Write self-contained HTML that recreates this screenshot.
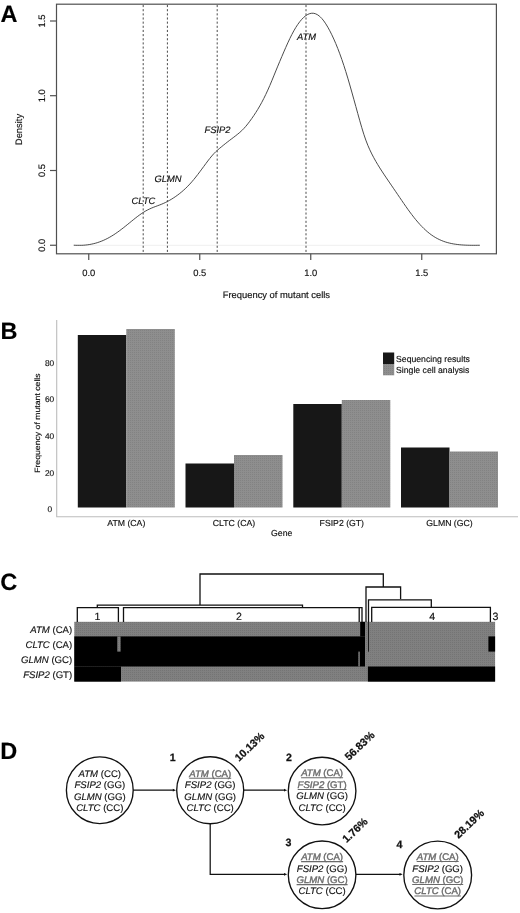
<!DOCTYPE html>
<html><head><meta charset="utf-8"><title>Figure</title>
<style>
html,body{margin:0;padding:0;background:#fff;}
body{width:520px;height:913px;overflow:hidden;}
svg{display:block;}
text{font-family:"Liberation Sans",sans-serif;fill:#111;text-rendering:geometricPrecision;stroke:#111;stroke-width:0.15px;}
.i{font-style:italic;}
.b{font-weight:bold;}
.bs{stroke:#111;stroke-width:0.25px;}
.pl{font-size:23.5px;font-weight:bold;fill:#000;}
.ax{font-size:9.4px;}
.bx{font-size:8.7px;}
.by{font-size:8.3px;}
.g{fill:#6c6c6c;stroke:#6c6c6c;stroke-width:0.4px;}
</style></head><body>
<svg width="520" height="913" viewBox="0 0 520 913">
<defs>
<pattern id="hb" width="2" height="2" patternUnits="userSpaceOnUse"><rect width="2" height="2" fill="#8e8e8e"/><rect width="1" height="1" fill="#828282"/></pattern>
<pattern id="hc" width="2" height="2" patternUnits="userSpaceOnUse"><rect width="2" height="2" fill="#808080"/><rect width="1" height="1" fill="#747474"/></pattern>
</defs>
<rect width="520" height="913" fill="#fff"/>

<g id="panelA">
<text class="pl" x="0.5" y="21.5">A</text>
<rect x="56.5" y="4.2" width="439.9" height="249.6" fill="none" stroke="#505050" stroke-width="1.2"/>
<line x1="73" y1="245.3" x2="480" y2="245.3" stroke="#e4e4e4" stroke-width="0.6"/>
<line x1="50" y1="245.25" x2="56.5" y2="245.25" stroke="#505050" stroke-width="1.2"/>
<text class="ax" transform="translate(45.3,245.25) rotate(-90)" text-anchor="middle">0.0</text>
<line x1="50" y1="170.50" x2="56.5" y2="170.50" stroke="#505050" stroke-width="1.2"/>
<text class="ax" transform="translate(45.3,170.50) rotate(-90)" text-anchor="middle">0.5</text>
<line x1="50" y1="95.70" x2="56.5" y2="95.70" stroke="#505050" stroke-width="1.2"/>
<text class="ax" transform="translate(45.3,95.70) rotate(-90)" text-anchor="middle">1.0</text>
<line x1="50" y1="21.00" x2="56.5" y2="21.00" stroke="#505050" stroke-width="1.2"/>
<text class="ax" transform="translate(45.3,21.00) rotate(-90)" text-anchor="middle">1.5</text>
<line x1="88.75" y1="253.8" x2="88.75" y2="260" stroke="#505050" stroke-width="1.2"/>
<text class="ax" x="88.75" y="276" text-anchor="middle">0.0</text>
<line x1="199.75" y1="253.8" x2="199.75" y2="260" stroke="#505050" stroke-width="1.2"/>
<text class="ax" x="199.75" y="276" text-anchor="middle">0.5</text>
<line x1="310.75" y1="253.8" x2="310.75" y2="260" stroke="#505050" stroke-width="1.2"/>
<text class="ax" x="310.75" y="276" text-anchor="middle">1.0</text>
<line x1="421.75" y1="253.8" x2="421.75" y2="260" stroke="#505050" stroke-width="1.2"/>
<text class="ax" x="421.75" y="276" text-anchor="middle">1.5</text>
<text class="ax" transform="translate(21.6,129.5) rotate(-90)" text-anchor="middle">Density</text>
<text class="ax" x="276.4" y="298.3" text-anchor="middle">Frequency of mutant cells</text>
<line x1="143.20" y1="5" x2="143.20" y2="253" stroke="#4a4a4a" stroke-width="1.0" stroke-dasharray="2.1,2.05"/>
<line x1="167.40" y1="5" x2="167.40" y2="253" stroke="#4a4a4a" stroke-width="1.0" stroke-dasharray="2.1,2.05"/>
<line x1="217.20" y1="5" x2="217.20" y2="253" stroke="#4a4a4a" stroke-width="1.0" stroke-dasharray="2.1,2.05"/>
<line x1="306.00" y1="5" x2="306.00" y2="253" stroke="#4a4a4a" stroke-width="1.0" stroke-dasharray="2.1,2.05"/>
<path d="M73.8,245.19 L75.8,245.30 L77.8,245.30 L79.8,245.30 L81.8,245.30 L83.8,245.20 L85.8,245.03 L87.8,244.79 L89.8,244.48 L91.8,244.09 L93.8,243.64 L95.8,243.11 L97.8,242.50 L99.8,241.81 L101.8,241.04 L103.8,240.19 L105.8,239.26 L107.8,238.25 L109.8,237.15 L111.8,235.97 L113.8,234.72 L115.8,233.39 L117.8,232.00 L119.8,230.54 L121.8,229.03 L123.8,227.47 L125.8,225.88 L127.8,224.26 L129.8,222.63 L131.8,221.00 L133.8,219.38 L135.8,217.80 L137.8,216.26 L139.8,214.79 L141.8,213.40 L143.8,212.11 L145.8,210.92 L147.8,209.84 L149.8,208.87 L151.8,207.98 L153.8,207.17 L155.8,206.41 L157.8,205.67 L159.8,204.91 L161.8,204.12 L163.8,203.26 L165.8,202.32 L167.8,201.30 L169.8,200.19 L171.8,199.00 L173.8,197.73 L175.8,196.38 L177.8,194.94 L179.8,193.40 L181.8,191.77 L183.8,190.03 L185.8,188.18 L187.8,186.20 L189.8,184.09 L191.8,181.85 L193.8,179.49 L195.8,177.02 L197.8,174.45 L199.8,171.81 L201.8,169.10 L203.8,166.38 L205.8,163.66 L207.8,160.99 L209.8,158.41 L211.8,155.96 L213.8,153.71 L215.8,151.69 L217.8,149.87 L219.8,148.17 L221.8,146.52 L223.8,144.90 L225.8,143.30 L227.8,141.73 L229.8,140.20 L231.8,138.69 L233.8,137.18 L235.8,135.65 L237.8,134.07 L239.8,132.39 L241.8,130.58 L243.8,128.56 L245.8,126.32 L247.8,123.86 L249.8,121.22 L251.8,118.45 L253.8,115.55 L255.8,112.51 L257.8,109.31 L259.8,105.91 L261.8,102.30 L263.8,98.46 L265.8,94.39 L267.8,90.08 L269.8,85.54 L271.8,80.79 L273.8,75.90 L275.8,70.97 L277.8,66.11 L279.8,61.33 L281.8,56.62 L283.8,51.95 L285.8,47.35 L287.8,42.89 L289.8,38.62 L291.8,34.59 L293.8,30.86 L295.8,27.45 L297.8,24.38 L299.8,21.66 L301.8,19.29 L303.8,17.29 L305.8,15.65 L307.8,14.42 L309.8,13.60 L311.8,13.22 L313.8,13.31 L315.8,13.88 L317.8,14.93 L319.8,16.46 L321.8,18.48 L323.8,20.95 L325.8,23.86 L327.8,27.16 L329.8,30.81 L331.8,34.77 L333.8,39.05 L335.8,43.65 L337.8,48.57 L339.8,53.82 L341.8,59.40 L343.8,65.32 L345.8,71.58 L347.8,78.15 L349.8,84.99 L351.8,92.03 L353.8,99.19 L355.8,106.40 L357.8,113.63 L359.8,120.80 L361.8,127.73 L363.8,134.22 L365.8,140.07 L367.8,145.24 L369.8,149.81 L371.8,153.95 L373.8,157.76 L375.8,161.33 L377.8,164.71 L379.8,167.94 L381.8,171.06 L383.8,174.10 L385.8,177.08 L387.8,180.03 L389.8,182.96 L391.8,185.89 L393.8,188.82 L395.8,191.76 L397.8,194.71 L399.8,197.65 L401.8,200.59 L403.8,203.51 L405.8,206.39 L407.8,209.22 L409.8,211.97 L411.8,214.65 L413.8,217.24 L415.8,219.72 L417.8,222.09 L419.8,224.35 L421.8,226.48 L423.8,228.48 L425.8,230.35 L427.8,232.09 L429.8,233.69 L431.8,235.16 L433.8,236.50 L435.8,237.72 L437.8,238.81 L439.8,239.78 L441.8,240.64 L443.8,241.41 L445.8,242.08 L447.8,242.66 L449.8,243.17 L451.8,243.60 L453.8,243.97 L455.8,244.28 L457.8,244.54 L459.8,244.76 L461.8,244.93 L463.8,245.06 L465.8,245.16 L467.8,245.23 L469.8,245.28 L471.8,245.30 L473.8,245.30 L475.8,245.30 L477.8,245.28 L479.8,245.25" fill="none" stroke="#4c4c4c" stroke-width="1.0" stroke-linejoin="round"/>
<text class="ax i" x="306.5" y="40.0" text-anchor="middle">ATM</text>
<text class="ax i" x="217.5" y="133.0" text-anchor="middle">FSIP2</text>
<text class="ax i" x="168.0" y="181.5" text-anchor="middle">GLMN</text>
<text class="ax i" x="143.5" y="204.0" text-anchor="middle">CLTC</text>
</g>
<g id="panelB">
<text class="pl" x="0.5" y="339">B</text>
<path d="M56.7,320 V516.7 H518" fill="none" stroke="#bdbdbd" stroke-width="1.1"/>
<text class="by" x="52.0" y="511.6" text-anchor="end">0</text>
<text class="by" x="54.2" y="475.5" text-anchor="end">20</text>
<text class="by" x="54.2" y="439.1" text-anchor="end">40</text>
<text class="by" x="54.2" y="402.2" text-anchor="end">60</text>
<text class="by" x="54.2" y="366.3" text-anchor="end">80</text>
<text transform="translate(40.2,423.1) rotate(-90)" text-anchor="middle" font-size="7.7" textLength="99.5" lengthAdjust="spacingAndGlyphs">Frequency of mutant cells</text>
<rect x="77.8" y="335.0" width="48.5" height="172.5" fill="#171717"/>
<rect x="126.3" y="329.0" width="48.5" height="178.5" fill="url(#hb)"/>
<text class="bx" x="126.3" y="525.7" text-anchor="middle">ATM (CA)</text>
<rect x="185.5" y="463.5" width="48.5" height="44.0" fill="#171717"/>
<rect x="234.0" y="455.0" width="48.5" height="52.5" fill="url(#hb)"/>
<text class="bx" x="234.0" y="525.7" text-anchor="middle">CLTC (CA)</text>
<rect x="293.3" y="404.0" width="48.5" height="103.5" fill="#171717"/>
<rect x="341.8" y="400.0" width="48.5" height="107.5" fill="url(#hb)"/>
<text class="bx" x="341.8" y="525.7" text-anchor="middle">FSIP2 (GT)</text>
<rect x="401.0" y="447.5" width="48.5" height="60.0" fill="#171717"/>
<rect x="449.5" y="451.5" width="48.5" height="56.0" fill="url(#hb)"/>
<text class="bx" x="449.5" y="525.7" text-anchor="middle">GLMN (GC)</text>
<text class="bx" x="281.7" y="535.7" text-anchor="middle">Gene</text>
<rect x="383" y="352.5" width="11.2" height="11.5" fill="#171717"/>
<rect x="383" y="364" width="11.2" height="11.3" fill="url(#hb)"/>
<text class="bx" x="396" y="361.7">Sequencing results</text>
<text class="bx" x="396" y="373">Single cell analysis</text>
</g>
<g id="panelC">
<text class="pl" x="0.3" y="590.3">C</text>
<rect x="74.3" y="621.8" width="420.8" height="59.8" fill="url(#hc)"/>
<rect x="74.3" y="636.4" width="290.7" height="30.1" fill="#000"/>
<rect x="74.3" y="666.5" width="46.7" height="15.1" fill="#000"/>
<rect x="367.9" y="666.5" width="127.2" height="15.1" fill="#000"/>
<rect x="360.2" y="621.8" width="4.8" height="14.7" fill="#000"/>
<rect x="117.3" y="636.4" width="3.3" height="15.2" fill="url(#hc)"/>
<rect x="358.3" y="651.6" width="1.5" height="14.9" fill="url(#hc)"/>
<rect x="488.4" y="636.4" width="6.7" height="15.2" fill="#000"/>
<line x1="368.5" y1="621" x2="368.5" y2="651.7" stroke="#111" stroke-width="0.9"/>
<path d="M200,604.8 V574 H383.3 V587 M366,622 V587 H400.6 V599 M368.5,622 V599.8 H431.3 V607 M371.7,622 V607.3 H490.4 V622 M97.3,607.6 V605.1 H302.5 V607.6 M77.3,622 V607.7 H118.4 V622 M123.5,622 V607.7 H362 V622 M359.2,607.7 V622" fill="none" stroke="#111" stroke-width="1.3"/>
<text x="97.5" y="619.5" font-size="10.6" text-anchor="middle">1</text>
<text x="238.9" y="619.5" font-size="10.6" text-anchor="middle">2</text>
<text x="432.3" y="619.5" font-size="10.6" text-anchor="middle">4</text>
<text x="492.5" y="619.5" font-size="10.6">3</text>
<text font-size="9.6" x="72.2" y="632.8" text-anchor="end"><tspan class="i">ATM</tspan> (CA)</text>
<text font-size="9.6" x="72.2" y="647.6" text-anchor="end"><tspan class="i">CLTC</tspan> (CA)</text>
<text font-size="9.6" x="72.2" y="662.6" text-anchor="end"><tspan class="i">GLMN</tspan> (GC)</text>
<text font-size="9.6" x="72.2" y="677.6" text-anchor="end"><tspan class="i">FSIP2</tspan> (GT)</text>
</g>
<g id="panelD">
<text class="pl" x="0.3" y="759">D</text>
<circle cx="99.8" cy="790.2" r="33.4" fill="#fff" stroke="#111" stroke-width="1.35"/>
<text x="99.8" y="776.7" text-anchor="middle" font-size="9.6"><tspan class="i">ATM</tspan> (CC)</text>
<text x="99.8" y="788.4" text-anchor="middle" font-size="9.6"><tspan class="i">FSIP2</tspan> (GG)</text>
<text x="99.8" y="799.7" text-anchor="middle" font-size="9.6"><tspan class="i">GLMN</tspan> (GG)</text>
<text x="99.8" y="811.1" text-anchor="middle" font-size="9.6"><tspan class="i">CLTC</tspan> (CC)</text>
<circle cx="210.2" cy="790.2" r="33.5" fill="#fff" stroke="#111" stroke-width="1.35"/>
<text x="210.2" y="776.7" text-anchor="middle" font-size="9.6" class="g u"><tspan class="i">ATM</tspan> (CA)</text>
<line x1="189.2" y1="778.3" x2="231.2" y2="778.3" stroke="#6a6a6a" stroke-width="1.05"/>
<text x="210.2" y="788.4" text-anchor="middle" font-size="9.6"><tspan class="i">FSIP2</tspan> (GG)</text>
<text x="210.2" y="799.7" text-anchor="middle" font-size="9.6"><tspan class="i">GLMN</tspan> (GG)</text>
<text x="210.2" y="811.1" text-anchor="middle" font-size="9.6"><tspan class="i">CLTC</tspan> (CC)</text>
<circle cx="322.1" cy="791.0" r="33.8" fill="#fff" stroke="#111" stroke-width="1.35"/>
<text x="322.1" y="776.2" text-anchor="middle" font-size="9.6" class="g u"><tspan class="i">ATM</tspan> (CA)</text>
<line x1="301.1" y1="777.8" x2="343.1" y2="777.8" stroke="#6a6a6a" stroke-width="1.05"/>
<text x="322.1" y="787.9" text-anchor="middle" font-size="9.6" class="g u"><tspan class="i">FSIP2</tspan> (GT)</text>
<line x1="297.7" y1="789.5" x2="346.5" y2="789.5" stroke="#6a6a6a" stroke-width="1.05"/>
<text x="322.1" y="799.2" text-anchor="middle" font-size="9.6"><tspan class="i">GLMN</tspan> (GG)</text>
<text x="322.1" y="810.6" text-anchor="middle" font-size="9.6"><tspan class="i">CLTC</tspan> (CC)</text>
<circle cx="322.1" cy="874.8" r="33.8" fill="#fff" stroke="#111" stroke-width="1.35"/>
<text x="322.1" y="860.0" text-anchor="middle" font-size="9.6" class="g u"><tspan class="i">ATM</tspan> (CA)</text>
<line x1="301.1" y1="861.6" x2="343.1" y2="861.6" stroke="#6a6a6a" stroke-width="1.05"/>
<text x="322.1" y="871.7" text-anchor="middle" font-size="9.6"><tspan class="i">FSIP2</tspan> (GG)</text>
<text x="322.1" y="883.0" text-anchor="middle" font-size="9.6" class="g u"><tspan class="i">GLMN</tspan> (GC)</text>
<line x1="296.6" y1="884.6" x2="347.6" y2="884.6" stroke="#6a6a6a" stroke-width="1.05"/>
<text x="322.1" y="894.4" text-anchor="middle" font-size="9.6"><tspan class="i">CLTC</tspan> (CC)</text>
<circle cx="437.7" cy="875.0" r="33.9" fill="#fff" stroke="#111" stroke-width="1.35"/>
<text x="437.7" y="859.9" text-anchor="middle" font-size="9.6" class="g u"><tspan class="i">ATM</tspan> (CA)</text>
<line x1="416.7" y1="861.5" x2="458.7" y2="861.5" stroke="#6a6a6a" stroke-width="1.05"/>
<text x="437.7" y="871.6" text-anchor="middle" font-size="9.6"><tspan class="i">FSIP2</tspan> (GG)</text>
<text x="437.7" y="882.9" text-anchor="middle" font-size="9.6" class="g u"><tspan class="i">GLMN</tspan> (GC)</text>
<line x1="412.2" y1="884.5" x2="463.2" y2="884.5" stroke="#6a6a6a" stroke-width="1.05"/>
<text x="437.7" y="894.3" text-anchor="middle" font-size="9.6" class="g u"><tspan class="i">CLTC</tspan> (CA)</text>
<line x1="414.4" y1="895.9" x2="460.9" y2="895.9" stroke="#6a6a6a" stroke-width="1.05"/>
<path d="M133.2,790.2 H174 M243.7,790.2 H285 M210.2,823.7 V874.3 H285 M355.9,874.3 H400.5" fill="none" stroke="#111" stroke-width="1.25"/>
<path d="M176.0,790.2 l-3.2,-1.35 v2.7 z" fill="#111"/>
<path d="M287.2,790.2 l-3.2,-1.35 v2.7 z" fill="#111"/>
<path d="M287.2,874.3 l-3.2,-1.35 v2.7 z" fill="#111"/>
<path d="M402.7,874.3 l-3.2,-1.35 v2.7 z" fill="#111"/>
<text class="b bs" x="172.8" y="761.0" font-size="10.6" text-anchor="middle">1</text>
<text class="b bs" x="289.0" y="760.8" font-size="10.6" text-anchor="middle">2</text>
<text class="b bs" x="288.5" y="846.0" font-size="10.6" text-anchor="middle">3</text>
<text class="b bs" x="399.4" y="848.0" font-size="10.6" text-anchor="middle">4</text>
<text class="b bs" transform="translate(238.9,762.0) rotate(-43.5)" font-size="10.7">10.13%</text>
<text class="b bs" transform="translate(349.0,761.0) rotate(-43.5)" font-size="10.7">56.83%</text>
<text class="b bs" transform="translate(346.5,843.3) rotate(-43.5)" font-size="10.7">1.76%</text>
<text class="b bs" transform="translate(458.5,839.0) rotate(-43.5)" font-size="10.7">28.19%</text>
</g>
</svg></body></html>
